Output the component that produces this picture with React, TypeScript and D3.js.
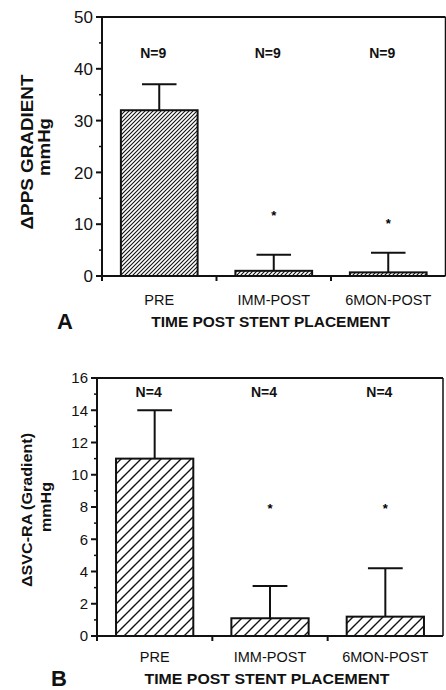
import * as d3 from 'd3';
import React from 'react';

// shared categories
const categories = ["PRE", "IMM-POST", "6MON-POST"];

// panel A: PPS gradient
const ppsMean = [32, 1, 0.7];
const ppsSD = [5, 3.1, 3.8];
const ppsN = [9, 9, 9];
const ppsStar = [null, 12, 10.5];
const ppsTicks = [0, 10, 20, 30, 40, 50];

// panel B: SVC-RA gradient
const svcMean = [11, 1.1, 1.2];
const svcSD = [3, 2, 3];
const svcN = [4, 4, 4];
const svcStar = [null, 8, 8];
const svcTicks = [0, 2, 4, 6, 8, 10, 12, 14, 16];

const FONT = "'Liberation Sans', Arial, Helvetica, sans-serif";

function Panel({ mean, sd, n, star, ticks, yMax, x0, x1, yTop, yBottom, hatch, hatchId,
    tickSize, nY, labelY, titleY, titleLen, letter, letterX, yTitle, yTitleSize, yTitleWeight,
    yTitleX, yTitleY, yTitleLen, mmX, mmY, mmLen, mmSize }) {

    const x = d3.scaleBand().domain(categories).range([x0, x1]).paddingInner(0.33).paddingOuter(0.165);
    const y = d3.scaleLinear().domain([0, yMax]).range([yBottom, yTop]);
    const step = x.step();
    const minor = d3.range(0, yMax, ticks[1] - ticks[0]).map(v => v + (ticks[1] - ticks[0]) / 2);
    const capW = x.bandwidth() * 0.45;

    return (
        <g>
            <defs>
                <pattern id={hatchId} patternUnits="userSpaceOnUse" width={hatch} height={hatch}>
                    <path d={`M0,${hatch} L${hatch},0 M-1,1 L1,-1 M${hatch - 1},${hatch + 1} L${hatch + 1},${hatch - 1}`}
                        stroke="#111" strokeWidth={hatch > 6 ? 1.4 : 1.1} />
                </pattern>
            </defs>

            {/* bars */}
            {categories.map((c, i) => (
                <rect key={c} x={x(c)} y={y(mean[i])} width={x.bandwidth()} height={yBottom - y(mean[i])}
                    fill={`url(#${hatchId})`} stroke="#111" strokeWidth={2} />
            ))}

            {/* error bars */}
            {categories.map((c, i) => {
                const cx = x(c) + x.bandwidth() / 2;
                return (
                    <g key={c} stroke="#111" strokeWidth={2}>
                        <line x1={cx} x2={cx} y1={y(mean[i])} y2={y(mean[i] + sd[i])} />
                        <line x1={cx - capW / 2} x2={cx + capW / 2} y1={y(mean[i] + sd[i])} y2={y(mean[i] + sd[i])} />
                    </g>
                );
            })}

            {/* asterisks */}
            {categories.map((c, i) => star[i] == null ? null : (
                <text key={c} x={x(c) + x.bandwidth() / 2} y={y(star[i]) + 6} textAnchor="middle"
                    fontFamily={FONT} fontSize={13} fontWeight="bold">*</text>
            ))}

            {/* N labels */}
            {categories.map((c, i) => (
                <text key={c} x={x(c) + x.bandwidth() / 2 - 6} y={nY} textAnchor="middle"
                    fontFamily={FONT} fontSize={14} fontWeight="bold" fill="#111">N={n[i]}</text>
            ))}

            {/* frame */}
            <g stroke="#111" strokeWidth={2} fill="none">
                <line x1={x0} x2={x0} y1={yTop} y2={yBottom} />
                <line x1={x0} x2={x1} y1={yBottom} y2={yBottom} />
                <line x1={x0} x2={x1} y1={yTop} y2={yTop} />
                <line x1={x1} x2={x1} y1={yTop} y2={yBottom} strokeWidth={1.5} />
            </g>

            {/* y ticks */}
            {ticks.map(t => (
                <g key={t}>
                    <line x1={x0 - 6} x2={x0} y1={y(t)} y2={y(t)} stroke="#111" strokeWidth={2} />
                    <text x={x0 - 9} y={y(t)} dy="0.36em" textAnchor="end" fontFamily={FONT}
                        fontSize={tickSize} fill="#111">{t}</text>
                </g>
            ))}
            {minor.map(t => (
                <line key={t} x1={x0 - 3} x2={x0} y1={y(t)} y2={y(t)} stroke="#111" strokeWidth={1.5} />
            ))}

            {/* x ticks at band boundaries */}
            {[0, 1, 2].map(i => (
                <line key={i} x1={x0 + step * i} x2={x0 + step * i} y1={yBottom} y2={yBottom + 5}
                    stroke="#111" strokeWidth={2} />
            ))}
            {categories.map(c => (
                <text key={c} x={x(c) + x.bandwidth() / 2} y={labelY} textAnchor="middle"
                    fontFamily={FONT} fontSize={14.5} fill="#111">{c}</text>
            ))}

            <text x={x0 + (x1 - x0) / 2 - 3} y={titleY} textAnchor="middle" fontFamily={FONT} fontSize={14.5}
                fontWeight="bold" textLength={titleLen} lengthAdjust="spacingAndGlyphs" fill="#111">TIME POST STENT PLACEMENT</text>
            <text x={letterX} y={titleY + 2} fontFamily={FONT} fontSize={22} fontWeight="bold" fill="#111">{letter}</text>

            {/* y title */}
            <text transform={`translate(${yTitleX},${yTitleY}) rotate(-90)`} textAnchor="middle"
                fontFamily={FONT} fontSize={yTitleSize} fontWeight={yTitleWeight} fill="#111"
                textLength={yTitleLen} lengthAdjust="spacingAndGlyphs">{yTitle}</text>
            <text transform={`translate(${mmX},${mmY}) rotate(-90)`} textAnchor="middle"
                fontFamily={FONT} fontSize={mmSize} fontWeight="bold" fill="#111"
                textLength={mmLen} lengthAdjust="spacingAndGlyphs">mmHg</text>
        </g>
    );
}

export default function App() {
    return (
        <div style={{ position: 'absolute', left: 0, top: 0 }}>
            <svg width={446} height={690} style={{ display: 'block', background: '#fff' }}>
                <Panel mean={ppsMean} sd={ppsSD} n={ppsN} star={ppsStar} ticks={ppsTicks} yMax={50}
                    x0={102} x1={445.5} yTop={17} yBottom={276} hatch={4} hatchId="hatchA"
                    tickSize={17} nY={58} labelY={305} titleY={327} titleLen={239} letter="A" letterX={57}
                    yTitle="ΔPPS GRADIENT" yTitleSize={17} yTitleWeight="bold"
                    yTitleX={33} yTitleY={152} yTitleLen={155} mmX={50} mmY={147} mmLen={58} mmSize={16} />
                <Panel mean={svcMean} sd={svcSD} n={svcN} star={svcStar} ticks={svcTicks} yMax={16}
                    x0={97} x1={443} yTop={378} yBottom={636} hatch={10} hatchId="hatchB"
                    tickSize={15} nY={397} labelY={662} titleY={684} titleLen={245} letter="B" letterX={51}
                    yTitle="ΔSVC-RA (Gradient)" yTitleSize={15} yTitleWeight="600"
                    yTitleX={32} yTitleY={510} yTitleLen={154} mmX={51} mmY={507} mmLen={50} mmSize={15} />
            </svg>
        </div>
    );
}
